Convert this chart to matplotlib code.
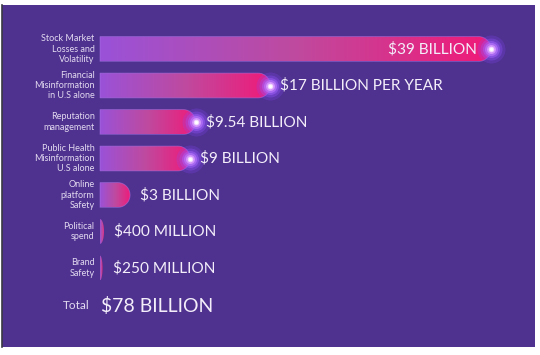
import numpy as np
import matplotlib
matplotlib.use("Agg")
import matplotlib.pyplot as plt
from matplotlib.path import Path
from matplotlib.patches import PathPatch
from matplotlib.colors import LinearSegmentedColormap

# ---- data ----
categories = ["Stock Market\nLosses and\nVolatility",
              "Financial\nMisinformation\nin U.S alone",
              "Reputation\nmanagement",
              "Public Health\nMisinformation\nU.S alone",
              "Online\nplatform\nSafety",
              "Political\nspend",
              "Brand\nSafety"]
values = [39, 17, 9.54, 9, 3, 0.4, 0.25]          # billions USD
value_labels = ["$39 BILLION", "$17 BILLION PER YEAR", "$9.54 BILLION",
                "$9 BILLION", "$3 BILLION", "$400 MILLION", "$250 MILLION"]
glow = [True, True, True, True, False, False, False]
total_name = "Total"
total_label = "$78 BILLION"

# ---- style ----
BG = "#4f318f"
TXT = "#f3eefa"
CAT_TXT = "#e2daf0"
FONT = ["Lato", "DejaVu Sans"]
plt.rcParams["font.family"] = FONT

W, H, DPI = 540, 355, 100
fig = plt.figure(figsize=(W / DPI, H / DPI), dpi=DPI, facecolor="white")

# purple panel axes (pixel geometry)
L_px, R_px, T_px, B_px = 2, 535, 5, 347
ax = fig.add_axes([L_px / W, (H - B_px) / H, (R_px - L_px) / W, (B_px - T_px) / H])
ax.set_facecolor(BG)
for s in ax.spines.values():
    s.set_visible(False)
ax.spines["left"].set_visible(True)
ax.spines["left"].set_color("#3a3a44")
ax.spines["left"].set_linewidth(1.2)
ax.set_xticks([]); ax.set_yticks([])

x0_px, x39_px = 100, 491
px_per = (x39_px - x0_px) / 39.0
row0_px, row_step = 49, 36.5
ax.set_xlim((L_px - x0_px) / px_per, (R_px - x0_px) / px_per)
ax.set_ylim((B_px - row0_px) / row_step, (T_px - row0_px) / row_step)

cmap = LinearSegmentedColormap.from_list(
    "bar", [(0.0, "#9a52d8"), (0.5, "#bf4a9f"), (1.0, "#f01a78")])
grad = np.linspace(0, 1, 256).reshape(1, -1)

half = 12.4 / row_step           # bar half-height in data units
cap_rx_full = 12.4 / px_per      # cap horizontal radius in data units

for i, (v, lab, cat, g) in enumerate(zip(values, value_labels, categories, glow)):
    y = i
    rx = min(cap_rx_full, v)
    xs_body = v - rx
    th = np.linspace(-np.pi / 2, np.pi / 2, 40)
    ex = xs_body + rx * np.cos(th)
    ey = y + half * np.sin(th)
    verts = [(0, y - half)] + list(zip(ex, ey)) + [(0, y + half), (0, y - half)]
    codes = [Path.MOVETO] + [Path.LINETO] * (len(verts) - 2) + [Path.CLOSEPOLY]
    big = v > 1
    patch = PathPatch(Path(verts, codes), facecolor="none",
                      edgecolor="#a878e8", lw=0.6 if big else 0.0,
                      alpha=0.55, zorder=3)
    ax.add_patch(patch)
    im = ax.imshow(grad, cmap=cmap, aspect="auto",
                   extent=[0, v, y + half, y - half], zorder=2,
                   interpolation="bilinear")
    im.set_clip_path(patch)

    if g:
        for r_px, col, a in [(14, "#8448ff", 0.22), (11, "#9655ff", 0.32),
                             (8.5, "#a865ff", 0.45), (6.5, "#c07cff", 0.6),
                             (4.5, "#dca0ff", 0.8), (2.8, "#f6deff", 0.95),
                             (1.6, "#ffffff", 1.0)]:
            s = (2 * r_px * 0.72) ** 2
            ax.scatter([v], [y], s=s, color=col, alpha=a, lw=0, zorder=4)

    if i == 0:
        ax.annotate(lab, (v, y), xytext=(-14 * 0.72, 0), textcoords="offset points",
                    ha="right", va="center", color=TXT, fontsize=11.1, zorder=5)
    else:
        ax.annotate(lab, (v, y), xytext=(10 * 0.72, 0), textcoords="offset points",
                    ha="left", va="center", color=TXT, fontsize=11.1, zorder=5)

    ax.annotate(cat, (0, y), xytext=(-5.5 * 0.72, 0), textcoords="offset points",
                ha="right", va="center", color=CAT_TXT, fontsize=6.5,
                linespacing=1.2, zorder=5)

ty = len(values) + 0.04
ax.annotate(total_name, (0, ty), xytext=(-10 * 0.72, 0), textcoords="offset points",
            ha="right", va="center", color=CAT_TXT, fontsize=8.5)
ax.annotate(total_label, (0, ty), xytext=(1 * 0.72, 0), textcoords="offset points",
            ha="left", va="center", color=TXT, fontsize=14)

fig.savefig("out.png", dpi=DPI, facecolor="white")
